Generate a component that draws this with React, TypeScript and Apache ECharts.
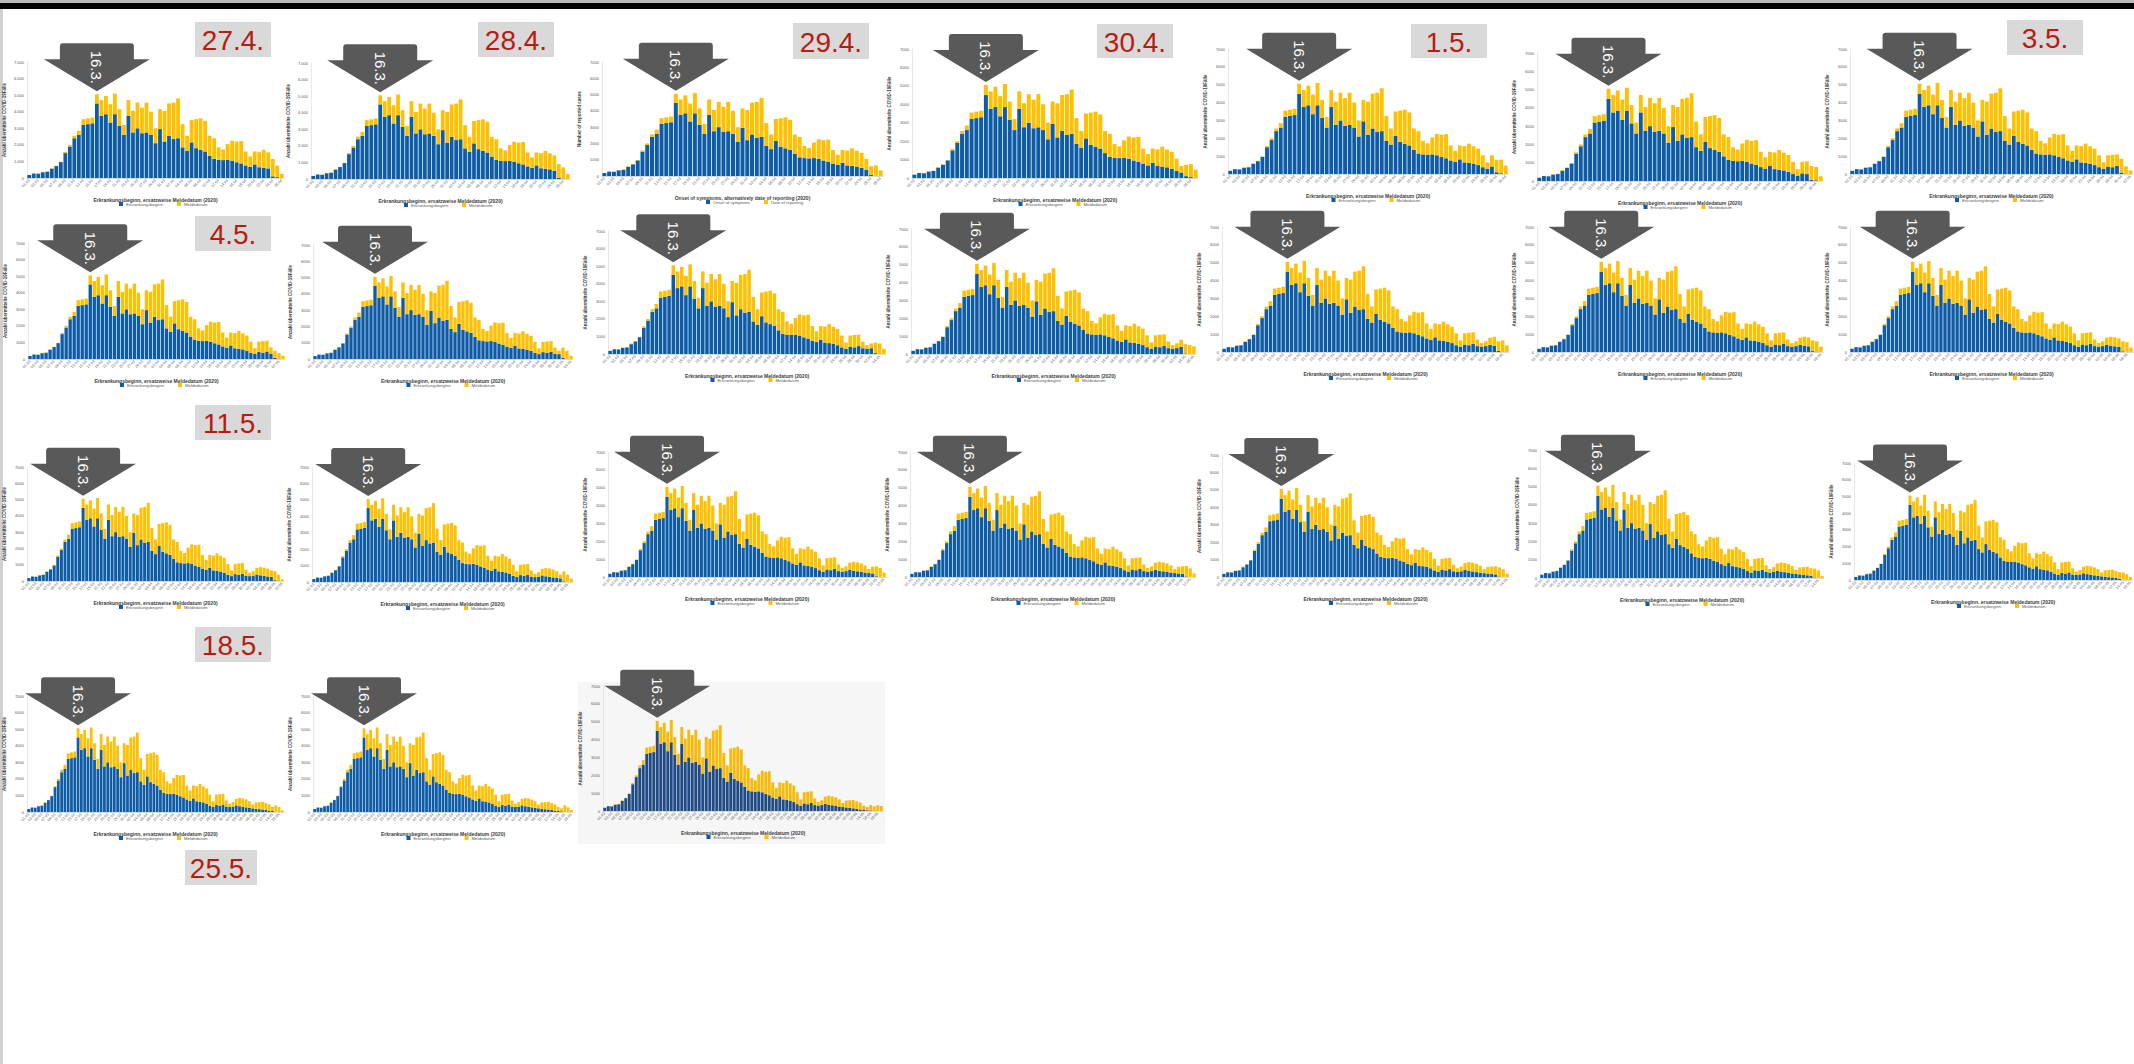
import React, { useEffect, useRef } from "react";
import * as echarts from "echarts";

// ---------- data ----------
const DATES = [
  "01.03","02.03","03.03","04.03","05.03","06.03","07.03","08.03","09.03","10.03",
  "11.03","12.03","13.03","14.03","15.03","16.03","17.03","18.03","19.03","20.03",
  "21.03","22.03","23.03","24.03","25.03","26.03","27.03","28.03","29.03","30.03",
  "31.03","01.04","02.04","03.04","04.04","05.04","06.04","07.04","08.04","09.04",
  "10.04","11.04","12.04","13.04","14.04","15.04","16.04","17.04","18.04","19.04",
  "20.04","21.04","22.04","23.04","24.04","25.04","26.04","27.04","28.04","29.04",
  "30.04","01.05","02.05","03.05","04.05","05.05","06.05","07.05","08.05","09.05",
  "10.05","11.05","12.05","13.05","14.05","15.05","16.05","17.05","18.05","19.05",
];

// Erkrankungsbeginn (blue)
const ERKRANKUNG = [
  180, 270, 260, 350, 380, 560, 720, 960, 1500, 1900,
  2400, 2600, 3200, 3250, 3300, 4500, 3750, 3850, 3350, 3850,
  3150, 2600, 3750, 2750, 3000, 2700, 2750, 2600, 2100, 2950,
  2200, 2550, 2350, 2400, 1850, 1650, 2150, 1800, 1700, 1600,
  1350, 1150, 1100, 1080, 1100, 1050, 950, 880, 760, 680,
  820, 650, 620, 580, 500, 380, 300, 420, 380, 450,
  330, 300, 330, 400, 350, 320, 280, 250, 220, 200,
  170, 150, 120, 80, 60, 40, 30, 20, 10, 0,
];

// Meldedatum (yellow, on top)
const MELDEDATUM = [
  0, 0, 10, 20, 20, 40, 20, 20, 70, 100,
  150, 250, 350, 350, 350, 550, 950, 1100, 1100, 1250,
  1000, 600, 950, 1300, 1550, 1550, 1800, 1400, 900, 1200,
  1850, 1950, 2200, 2400, 1400, 900, 1350, 1750, 1900, 1850,
  1200, 1250, 750, 640, 950, 1200, 1250, 1350, 840, 620,
  780, 910, 1080, 970, 920, 670, 350, 630, 700, 650,
  370, 200, 270, 400, 500, 500, 480, 400, 230, 380,
  430, 470, 420, 390, 240, 180, 300, 260, 240, 200,
];

// number of days shown in each of the 24 small charts
const BARS_SHOWN = [57, 58, 59, 60, 61, 62, 63, 64, 65, 66, 67, 68, 69, 70, 71, 72, 73, 74, 75, 76, 77, 78, 79, 80];

// the last three (still incomplete) days of each chart
const TAIL_ERKRANKUNG = [
  [100, 50, 0], [80, 30, 0], [60, 20, 0], [100, 50, 0], [100, 40, 0], [70, 40, 0],
  [80, 20, 0], [60, 20, 0], [60, 20, 0], [50, 20, 0], [30, 10, 0], [60, 20, 0],
  [50, 20, 0], [40, 10, 0], [50, 20, 0], [40, 10, 0], [40, 10, 0], [30, 10, 0],
  [30, 10, 0], [30, 10, 0], [20, 10, 0], [20, 0, 0], [20, 0, 0], [10, 0, 0],
];
const TAIL_MELDEDATUM = [
  [1050, 700, 250], [820, 670, 300], [540, 630, 350], [620, 710, 450], [700, 760, 470], [750, 730, 260],
  [770, 410, 200], [440, 330, 200], [640, 480, 200], [600, 580, 300], [520, 490, 420], [540, 630, 370],
  [600, 580, 300], [560, 540, 250], [550, 370, 100], [610, 440, 200], [560, 490, 250], [590, 470, 200],
  [520, 440, 200], [480, 410, 110], [430, 340, 180], [380, 300, 100], [380, 280, 120], [250, 320, 280],
];

const DATE_TAGS = ["27.4.", "28.4.", "29.4.", "30.4.", "1.5.", "3.5.", "4.5.", "11.5.", "18.5.", "25.5."];
const MARK_DAY = "16.03";
const MARK_TEXT = "16.3.";

const DE_NAMES = ["Erkrankungsbeginn", "Meldedatum"];
const EN_NAMES = ["Onset of symptoms", "Date of reporting"];
const DE_X_TITLE = "Erkrankungsbeginn, ersatzweise Meldedatum (2020)";
const EN_X_TITLE = "Onset of symptoms, alternatively date of reporting (2020)";
const DE_Y_TITLE = "Anzahl übermittelte COVID-19Fälle";
const EN_Y_TITLE = "Number of reported cases";

// ---------- layout (pixels) ----------
const PLOT_LEFT = [27, 311, 602, 912, 1228, 1537, 1850, 28, 313, 608, 911, 1222, 1537, 1850, 27, 312, 608, 910, 1222, 1540, 1854, 27, 313, 603];
const PLOT_RIGHT = [283, 569, 882, 1197, 1507, 1822, 2132, 284, 572, 885, 1195, 1508, 1822, 2132, 283, 572, 885, 1195, 1508, 1823, 2132, 283, 572, 882];
const PLOT_TOP = [62, 63, 62, 49, 49, 53, 49, 243, 245, 231, 229, 227, 227, 227, 467, 467, 452, 452, 455, 450, 463, 696, 696, 686];
const PLOT_BASE = [178, 179, 176, 178, 174, 181, 174, 359, 359, 354, 354, 352, 352, 352, 581, 582, 577, 577, 577, 578, 580, 812, 812, 811];
const TAG_BOX = [
  [195, 22, 76, 35], [478, 22, 76, 35], [793, 23, 76, 36], [1097, 24, 76, 34], [1411, 24, 76, 34],
  [2007, 20, 76, 35], [195, 216, 76, 35], [195, 405, 76, 35], [195, 627, 76, 35], [185, 850, 72, 35],
];

const BLUE = "#0F5CA6";
const YELLOW = "#FFC000";
const DARK_BLUE = "#1F4A85";
const DARK_YELLOW = "#F7BA0A";
const ARROW = "path://M16,3 Q16,0 19,0 L87,0 Q90,0 90,3 L90,16 L106,16 L53,48 L0,16 L16,16 Z";
const FONT = "'Liberation Sans', Arial, Helvetica, sans-serif";

function buildOption() {
  const grid: any[] = [];
  const xAxis: any[] = [];
  const yAxis: any[] = [];
  const series: any[] = [];
  const legend: any[] = [];
  const graphic: any[] = [];

  graphic.push({ type: "rect", shape: { x: 0, y: 0, width: 2134, height: 3 }, style: { fill: "#b8b8b8" }, silent: true });
  graphic.push({ type: "rect", shape: { x: 0, y: 3, width: 2134, height: 6 }, style: { fill: "#000000" }, silent: true });
  graphic.push({ type: "rect", shape: { x: 0, y: 9, width: 3, height: 1055 }, style: { fill: "#d0d0d0" }, silent: true });
  graphic.push({ type: "rect", z: -10, shape: { x: 578, y: 682, width: 307, height: 162 }, style: { fill: "#f6f6f6" }, silent: true });

  for (let k = 0; k < BARS_SHOWN.length; k++) {
    const n = BARS_SHOWN[k];
    const english = k === 2;
    const last = k === BARS_SHOWN.length - 1;
    const names = english ? EN_NAMES : DE_NAMES;
    const blue = ERKRANKUNG.slice(0, n);
    const yellow = MELDEDATUM.slice(0, n);
    for (let j = 0; j < 3; j++) {
      blue[n - 3 + j] = TAIL_ERKRANKUNG[k][j];
      yellow[n - 3 + j] = TAIL_MELDEDATUM[k][j];
    }
    const markIdx = DATES.indexOf(MARK_DAY);
    const markTotal = blue[markIdx] + yellow[markIdx];
    const left = PLOT_LEFT[k];
    const right = PLOT_RIGHT[k];
    const top = PLOT_TOP[k];
    const base = PLOT_BASE[k];
    const dotted = k < 2;

    grid.push({ left, top, width: right - left + 1, height: base - top, containLabel: false });
    xAxis.push({
      type: "category",
      gridIndex: k,
      data: DATES.slice(0, n),
      axisTick: { show: false },
      axisLine: { lineStyle: { color: "#bfbfbf", width: 0.6 } },
      axisLabel: { interval: 1, rotate: 45, fontSize: 3.8, color: "#595959", margin: 2 },
      name: english ? EN_X_TITLE : DE_X_TITLE,
      nameLocation: "middle",
      nameGap: 19,
      nameTextStyle: { fontSize: 5, fontWeight: "bold", color: "#404040" },
    });
    yAxis.push({
      type: "value",
      gridIndex: k,
      min: 0,
      max: 7000,
      interval: 1000,
      splitLine: { show: false },
      axisTick: { show: false },
      axisLine: { show: true, lineStyle: { color: "#d9d9d9", width: 0.6 } },
      axisLabel: {
        fontSize: 4,
        color: "#595959",
        margin: 3,
        formatter: (v: number) => (dotted && v >= 1000 ? `${v / 1000}.000` : `${v}`),
      },
      name: english ? EN_Y_TITLE : DE_Y_TITLE,
      nameLocation: "middle",
      nameGap: 20,
      nameTextStyle: { fontSize: 4.5, fontWeight: "bold", color: "#404040" },
    });
    series.push({
      type: "bar",
      name: names[0],
      xAxisIndex: k,
      yAxisIndex: k,
      stack: "s" + k,
      data: blue,
      barCategoryGap: "16%",
      itemStyle: { color: last ? DARK_BLUE : BLUE },
      silent: true,
    });
    series.push({
      type: "bar",
      name: names[1],
      xAxisIndex: k,
      yAxisIndex: k,
      stack: "s" + k,
      data: yellow,
      barCategoryGap: "16%",
      clip: false,
      itemStyle: { color: last ? DARK_YELLOW : YELLOW },
      silent: true,
      markPoint: {
        silent: true,
        symbol: ARROW,
        symbolSize: [106, 48],
        symbolOffset: [0, -27],
        itemStyle: { color: "#595959" },
        label: {
          show: true,
          position: "inside",
          rotate: -90,
          formatter: MARK_TEXT,
          color: "#ffffff",
          fontSize: 15,
          fontFamily: FONT,
        },
        data: [{ coord: [MARK_DAY, markTotal] }],
      },
    });
    legend.push({
      left: (left + right) / 2 - 36,
      top: base + 24,
      data: names,
      icon: "rect",
      itemWidth: 4,
      itemHeight: 4,
      itemGap: 14,
      selectedMode: false,
      textStyle: { fontSize: 4.3, color: "#595959", padding: [0, 0, 0, -2] },
      padding: 0,
    });
  }

  DATE_TAGS.forEach((t, i) => {
    const [x, y, w, h] = TAG_BOX[i];
    graphic.push({
      type: "group",
      z: 100,
      silent: true,
      children: [
        { type: "rect", shape: { x, y, width: w, height: h }, style: { fill: "#d9d9d9" } },
        {
          type: "text",
          style: {
            text: t,
            x: x + w / 2,
            y: y + h / 2 + 1,
            align: "center",
            verticalAlign: "middle",
            fill: "#b81c10",
            fontSize: 28,
            fontFamily: FONT,
          },
        },
      ],
    });
  });

  return {
    animation: false,
    backgroundColor: "#ffffff",
    textStyle: { fontFamily: FONT },
    grid,
    xAxis,
    yAxis,
    series,
    legend,
    graphic,
  };
}

export default function App() {
  const ref = useRef<HTMLDivElement>(null);
  useEffect(() => {
    if (!ref.current) return;
    const chart = echarts.init(ref.current, undefined, { renderer: "svg" });
    chart.setOption(buildOption() as any);
    return () => chart.dispose();
  }, []);
  return (
    <div
      ref={ref}
      style={{ position: "fixed", left: 0, top: 0, width: 2134, height: 1064, background: "#ffffff" }}
    />
  );
}
